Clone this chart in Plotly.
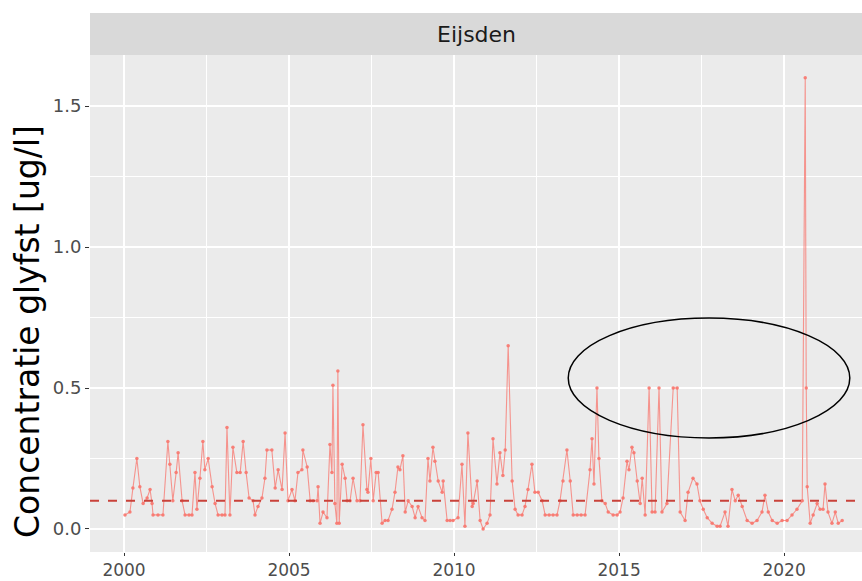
import plotly.graph_objects as go

station = "Eijsden"
y_title = "Concentratie glyfst [ug/l]"
norm_value = 0.1

years = [
    2000.03, 2000.18, 2000.27, 2000.39, 2000.48, 2000.58, 2000.70, 2000.79, 2000.85, 2000.88,
    2001.03, 2001.18, 2001.33, 2001.39, 2001.48, 2001.58, 2001.64, 2001.76, 2001.85, 2001.97,
    2002.06, 2002.15, 2002.21, 2002.30, 2002.39, 2002.45, 2002.55, 2002.67, 2002.76, 2002.85,
    2002.97, 2003.06, 2003.12, 2003.21, 2003.30, 2003.42, 2003.52, 2003.61, 2003.70, 2003.79,
    2003.91, 2003.97, 2004.06, 2004.18, 2004.27, 2004.33, 2004.48, 2004.58, 2004.67, 2004.79,
    2004.88, 2004.97, 2005.09, 2005.18, 2005.27, 2005.39, 2005.42, 2005.55, 2005.64, 2005.73,
    2005.85, 2005.88, 2005.94, 2006.03, 2006.15, 2006.24, 2006.30, 2006.33, 2006.39, 2006.45,
    2006.48, 2006.52, 2006.61, 2006.70, 2006.76, 2006.85, 2006.94, 2007.06, 2007.15, 2007.24,
    2007.36, 2007.39, 2007.48, 2007.55, 2007.64, 2007.70, 2007.82, 2007.91, 2008.00, 2008.12,
    2008.21, 2008.30, 2008.36, 2008.45, 2008.52, 2008.61, 2008.73, 2008.82, 2008.91, 2009.03,
    2009.12, 2009.21, 2009.27, 2009.36, 2009.42, 2009.52, 2009.64, 2009.67, 2009.79, 2009.88,
    2009.97, 2010.12, 2010.24, 2010.33, 2010.42, 2010.55, 2010.58, 2010.70, 2010.79, 2010.88,
    2011.00, 2011.09, 2011.18, 2011.30, 2011.39, 2011.48, 2011.55, 2011.64, 2011.76, 2011.85,
    2011.94, 2012.06, 2012.15, 2012.24, 2012.36, 2012.45, 2012.55, 2012.67, 2012.76, 2012.88,
    2013.00, 2013.12, 2013.21, 2013.30, 2013.42, 2013.52, 2013.61, 2013.73, 2013.85, 2013.97,
    2014.12, 2014.18, 2014.24, 2014.33, 2014.39, 2014.48, 2014.58, 2014.67, 2014.82, 2014.94,
    2015.03, 2015.12, 2015.24, 2015.30, 2015.39, 2015.45, 2015.55, 2015.64, 2015.70, 2015.79,
    2015.91, 2016.00, 2016.09, 2016.21, 2016.30, 2016.45, 2016.64, 2016.76, 2016.85, 2017.00,
    2017.09, 2017.24, 2017.36, 2017.45, 2017.55, 2017.67, 2017.82, 2017.97, 2018.06, 2018.21,
    2018.30, 2018.42, 2018.52, 2018.61, 2018.73, 2018.88, 2019.03, 2019.18, 2019.33, 2019.42,
    2019.52, 2019.64, 2019.79, 2019.94, 2020.09, 2020.24, 2020.39, 2020.55, 2020.64, 2020.67,
    2020.70, 2020.79, 2020.88, 2021.00, 2021.09, 2021.18, 2021.24, 2021.33, 2021.45, 2021.55,
    2021.64, 2021.76,
]

concentration = [
    0.05, 0.06, 0.145, 0.25, 0.15, 0.09, 0.11, 0.14, 0.09, 0.05,
    0.05, 0.05, 0.31, 0.23, 0.10, 0.20, 0.27, 0.10, 0.05, 0.05,
    0.05, 0.20, 0.07, 0.18, 0.31, 0.21, 0.25, 0.15, 0.09, 0.05,
    0.05, 0.05, 0.36, 0.05, 0.29, 0.20, 0.20, 0.31, 0.20, 0.11,
    0.10, 0.05, 0.08, 0.11, 0.18, 0.28, 0.28, 0.145, 0.21, 0.14,
    0.34, 0.10, 0.14, 0.10, 0.20, 0.21, 0.28, 0.22, 0.10, 0.10,
    0.10, 0.15, 0.02, 0.06, 0.04, 0.30, 0.20, 0.51, 0.09, 0.02,
    0.56, 0.02, 0.23, 0.18, 0.10, 0.10, 0.18, 0.10, 0.10, 0.37,
    0.14, 0.13, 0.25, 0.10, 0.20, 0.20, 0.02, 0.03, 0.03, 0.07,
    0.13, 0.22, 0.21, 0.26, 0.06, 0.10, 0.08, 0.04, 0.08, 0.04,
    0.03, 0.25, 0.17, 0.29, 0.24, 0.17, 0.13, 0.17, 0.03, 0.03,
    0.03, 0.04, 0.23, 0.01, 0.34, 0.08, 0.09, 0.17, 0.03, 0.00,
    0.02, 0.05, 0.32, 0.16, 0.27, 0.19, 0.28, 0.65, 0.17, 0.07,
    0.05, 0.05, 0.08, 0.14, 0.23, 0.13, 0.13, 0.10, 0.05, 0.05,
    0.05, 0.05, 0.10, 0.17, 0.28, 0.17, 0.05, 0.05, 0.05, 0.05,
    0.21, 0.32, 0.16, 0.50, 0.25, 0.10, 0.09, 0.06, 0.05, 0.05,
    0.06, 0.11, 0.24, 0.21, 0.29, 0.27, 0.17, 0.09, 0.18, 0.05,
    0.50, 0.06, 0.06, 0.50, 0.06, 0.09, 0.50, 0.50, 0.06, 0.03,
    0.13, 0.18, 0.16, 0.10, 0.07, 0.04, 0.02, 0.01, 0.01, 0.06,
    0.01, 0.14, 0.10, 0.12, 0.08, 0.03, 0.02, 0.03, 0.06, 0.12,
    0.06, 0.03, 0.02, 0.03, 0.03, 0.05, 0.07, 0.10, 1.60, 0.50,
    0.15, 0.02, 0.05, 0.09, 0.07, 0.07, 0.16, 0.06, 0.02, 0.06,
    0.02, 0.03,
]

x_ticks = [2000, 2005, 2010, 2015, 2020]
y_ticks = [0.0, 0.5, 1.0, 1.5]

# highlighted region (ellipse) in data units
ellipse_x = [2013.46, 2021.99]
ellipse_y = [0.323, 0.748]

FONT = "DejaVu Sans, Liberation Sans, Arial, sans-serif"
ML, MR, MT, MB = 90, 0, 55, 29
W, H = 862, 581
PW, PH = W - ML - MR, H - MT - MB

fig = go.Figure()
fig.add_trace(go.Scatter(
    x=years, y=concentration, mode="lines+markers",
    line=dict(color="rgba(248,118,109,0.75)", width=1.1),
    marker=dict(color="rgba(248,118,109,0.9)", size=3.5),
    showlegend=False, hoverinfo="x+y",
))

fig.add_hline(y=norm_value, line=dict(color="#C9423A", width=2, dash="dash"))

fig.add_shape(type="circle", xref="x", yref="y",
              x0=ellipse_x[0], x1=ellipse_x[1], y0=ellipse_y[0], y1=ellipse_y[1],
              line=dict(color="black", width=1.5))

# facet strip
fig.add_shape(type="rect", xref="paper", yref="paper", x0=0, x1=1, y0=1, y1=1 + 42 / PH,
              fillcolor="#D9D9D9", line=dict(width=0), layer="below")
fig.add_annotation(text=station, xref="paper", yref="paper", x=0.5, y=1 + 21 / PH,
                   showarrow=False, font=dict(family=FONT, size=22, color="#1A1A1A"),
                   xanchor="center", yanchor="middle")

# y-axis title
fig.add_annotation(text=y_title, xref="paper", yref="paper", x=-(ML - 27) / PW,
                   y=(552 - 332) / PH, textangle=-90, showarrow=False,
                   xanchor="center", yanchor="middle",
                   font=dict(family=FONT, size=33, color="black"))

fig.update_layout(
    width=W, height=H,
    margin=dict(l=ML, r=MR, t=MT, b=MB, autoexpand=False),
    paper_bgcolor="white", plot_bgcolor="#EBEBEB",
    font=dict(family=FONT, size=18, color="#4D4D4D"),
    showlegend=False,
)
fig.update_xaxes(
    range=[1998.97, 2022.36], tickvals=x_ticks, ticktext=[str(t) for t in x_ticks],
    showgrid=True, gridcolor="white", gridwidth=1.5, zeroline=False,
    ticks="outside", ticklen=3, tickcolor="#333333", tickwidth=1,
    tickfont=dict(size=17, color="#4D4D4D"), automargin=False,
    minor=dict(tickvals=[2002.5, 2007.5, 2012.5, 2017.5], showgrid=True,
               gridcolor="white", gridwidth=0.7, ticks=""),
    showline=False,
)
fig.update_yaxes(
    range=[-0.0816, 1.681], tickvals=y_ticks, ticktext=[f"{t:.1f}" for t in y_ticks],
    showgrid=True, gridcolor="white", gridwidth=1.5, zeroline=False,
    ticks="outside", ticklen=4, tickcolor="#333333", tickwidth=1,
    tickfont=dict(size=18, color="#4D4D4D"), automargin=False,
    minor=dict(tickvals=[0.25, 0.75, 1.25], showgrid=True,
               gridcolor="white", gridwidth=0.7, ticks=""),
    showline=False,
)

fig.write_html("out.html", config={"displayModeBar": False},
               post_script="document.body.style.margin='0';document.body.style.overflow='hidden';")
